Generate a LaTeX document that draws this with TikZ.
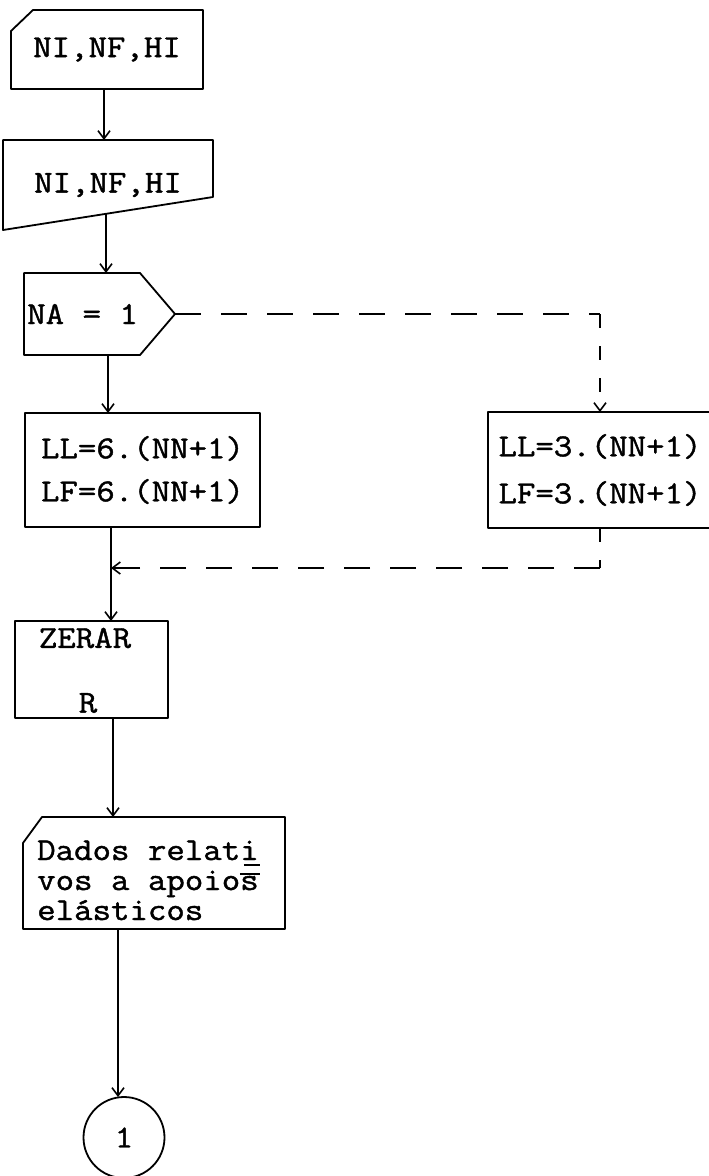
\documentclass[tikz,border=0pt]{standalone}
\usepackage{fontspec}
\newfontfamily\tw[FakeStretch=1.12,FakeBold=1.3]{Latin Modern Mono}
\usetikzlibrary{arrows.meta,calc}
\begin{document}
\begin{tikzpicture}[x=1pt,y=-1pt,
  ln/.style={line width=1.8pt, line join=round},
  bx/.style={inner sep=0pt, outer sep=0pt},
  txt/.style={font=\tw\fontsize{32pt}{32pt}\selectfont, inner sep=0pt},
  arr/.style={ln, -{Straight Barb[length=8pt,width=12pt,line width=1.6pt]}},
  dh/.style={dash pattern=on 26pt off 20pt},
  dv/.style={dash pattern=on 14pt off 18pt}]
\fill[white] (0,0) rectangle (709,1176);
\useasboundingbox (0,0) rectangle (709,1176);

% card 1
\node[bx, txt, minimum width=192pt, minimum height=79pt] (n1) at (107,49.5) {NI,NF,HI};
\draw[ln] ($(n1.north west)+(0,21)$) -- ($(n1.north west)+(22,0)$) -- (n1.north east) -- (n1.south east) -- (n1.south west) -- cycle;

% manual input
\node[bx, txt, minimum width=210pt, minimum height=90pt] (n2) at (108,185) {NI,NF,HI};
\draw[ln] (n2.north west) -- (n2.north east) -- ($(n2.north east)+(0,57)$) -- (n2.south west) -- cycle;
\coordinate (n2o) at (106,214);
\draw[arr] ([xshift=-3pt]n1.south) -- ([xshift=-4pt]n2.north);

% decision
\node[bx, minimum width=151pt, minimum height=82pt] (n3) at (99.5,314) {};
\draw[ln] (n3.north west) -- ($(n3.north east)+(-35,0)$) -- (n3.east) -- ($(n3.south east)+(-35,0)$) -- (n3.south west) -- cycle;
\node[txt, anchor=west] (t3) at ($(n3.west)+(3,0)$) {NA = 1};
\draw[arr] (n2o) -- (n2o |- n3.north);

% left box
\node[bx, txt, draw, ln, minimum width=235pt, minimum height=114pt, align=left] (L) at (142.5,470) {LL=6.(NN+1)\\[11pt]LF=6.(NN+1)};
\draw[arr] ([xshift=8.5pt]n3.south) -- ([xshift=-34.5pt]L.north);

% right box
\node[bx, txt, draw, ln, minimum width=224pt, minimum height=116pt, align=left] (R) at (600,470) {LL=3.(NN+1)\\[15pt]LF=3.(NN+1)};
\coordinate (c1) at (n3.east -| R.north);
\draw[ln,dh] (n3.east) -- (c1);
\draw[arr,dv] (c1) -- (R.north);

% zerar
\node[bx, draw, ln, minimum width=153pt, minimum height=97pt] (Z) at (91.5,669.5) {};
\node[txt] (z1) at (85,638) {ZERAR};
\node[txt] (z2) at (88,703) {R};
\draw[arr] ([xshift=-31.5pt]L.south) -- ([xshift=19.5pt]Z.north);
\coordinate (c2) at ($(R.south)+(0,40)$);
\coordinate (j) at (111,568);
\draw[ln,dv] (R.south) -- (c2);
\draw[arr,dh] (c2) -- (j);

% dados
\node[bx, minimum width=262pt, minimum height=112pt] (D) at (154,873) {};
\draw[ln] ($(D.north west)+(0,26)$) -- ($(D.north west)+(19,0)$) -- (D.north east) -- (D.south east) -- (D.south west) -- cycle;
\node[txt, anchor=base west] (d1) at (37,860) {Dados relati};
\node[txt, anchor=base west] (d2) at (37,890) {vos a apoios};
\node[txt, anchor=base west] (d3) at (37,920) {elásticos};
\draw[ln] ($(d1.base east)+(-15,5)$) -- ($(d1.base east)+(1,5)$);
\draw[ln] ($(d2.base east)+(-19,-16)$) -- ($(d2.base east)+(1,-16)$);
\draw[arr] ([xshift=21.5pt]Z.south) -- ([xshift=-41pt]D.north);

% connector circle
\node[bx, txt, circle, draw, ln, minimum size=81pt] (C) at (124,1137.5) {1};
\draw[arr] ([xshift=-36pt]D.south) -- ([xshift=-6pt]C.north);
\end{tikzpicture}
\end{document}
